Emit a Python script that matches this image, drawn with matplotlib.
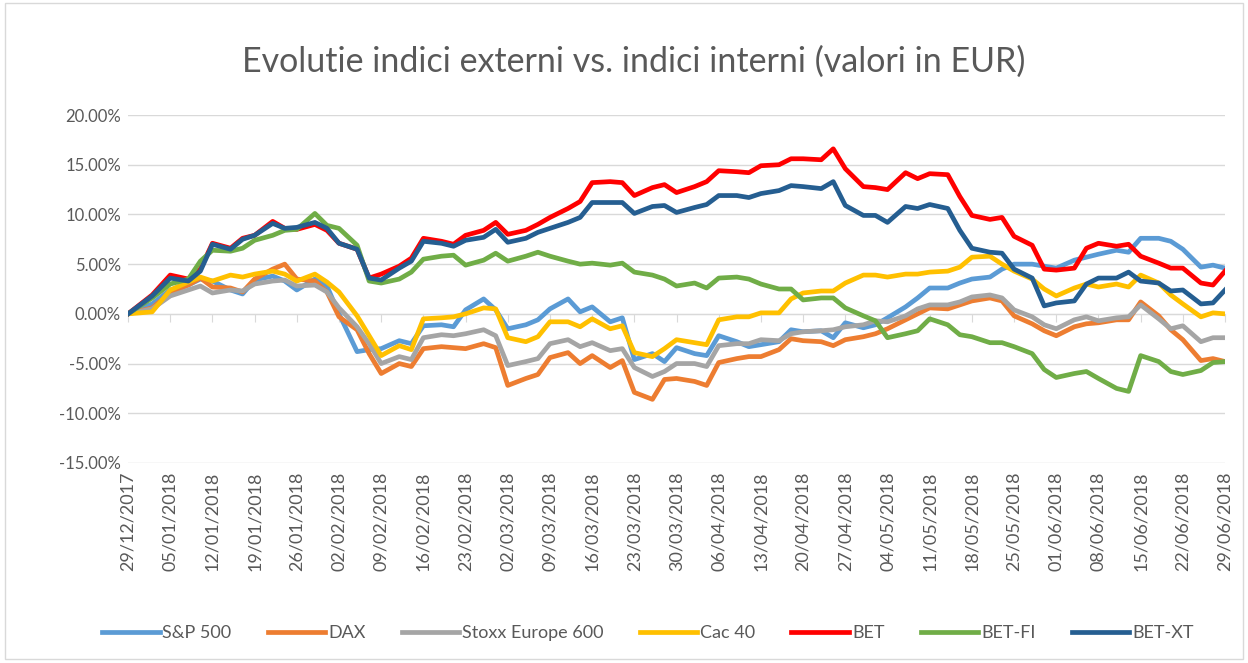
import numpy as np
import pandas as pd
import matplotlib
matplotlib.use('Agg')
import matplotlib.pyplot as plt
from matplotlib.lines import Line2D
from matplotlib.patches import Rectangle
from matplotlib.ticker import FuncFormatter

plt.rcParams['font.family'] = ['Lato', 'DejaVu Sans']

# days since 29/12/2017
days = [0, 4, 7, 10, 12, 14, 17, 19, 21, 24, 26, 28, 31, 33, 35, 38, 40, 42, 45, 47, 49,
        52, 54, 56, 59, 61, 63, 66, 68, 70, 73, 75, 77, 80, 82, 84, 87, 89, 91, 94, 96, 98,
        101, 103, 105, 108, 110, 112, 115, 117, 119, 122, 124, 126, 129, 131, 133, 136, 138,
        140, 143, 145, 147, 150, 152, 154, 157, 159, 161, 164, 166, 168, 171, 173, 175, 178,
        180, 182]

sp500 = [0, 1.0, 2.4, 2.9, 3.5, 3.3, 2.4, 2.0, 3.4, 3.8, 3.3, 2.4, 3.5, 2.8, 0.0, -3.8, -3.6,
         -3.5, -2.7, -3.0, -1.2, -1.1, -1.3, 0.4, 1.5, 0.4, -1.5, -1.1, -0.6, 0.5, 1.5, 0.2,
         0.7, -0.8, -0.4, -4.6, -4.0, -4.8, -3.4, -4.0, -4.2, -2.2, -2.8, -3.3, -3.1, -2.8,
         -1.6, -1.8, -1.7, -2.4, -0.9, -1.4, -1.1, -0.4, 0.7, 1.6, 2.6, 2.6, 3.1, 3.5, 3.7,
         4.5, 5.0, 5.0, 4.8, 4.6, 5.4, 5.7, 6.0, 6.4, 6.2, 7.6, 7.6, 7.3, 6.5, 4.7, 4.9, 4.6]
dax = [0, 0.6, 2.1, 2.9, 3.6, 2.7, 2.6, 2.2, 3.5, 4.5, 5.0, 3.5, 3.3, 2.2, -0.3, -1.6, -4.0,
       -6.0, -5.0, -5.3, -3.5, -3.3, -3.4, -3.5, -3.0, -3.4, -7.2, -6.5, -6.1, -4.4, -3.9,
       -5.0, -4.2, -5.4, -4.7, -7.9, -8.6, -6.6, -6.5, -6.8, -7.2, -4.9, -4.5, -4.3, -4.3,
       -3.6, -2.5, -2.7, -2.8, -3.2, -2.6, -2.3, -2.0, -1.5, -0.6, 0.0, 0.6, 0.5, 0.9, 1.3,
       1.6, 1.3, -0.2, -1.0, -1.7, -2.2, -1.3, -1.0, -0.9, -0.6, -0.6, 1.2, -0.2, -1.6, -2.6,
       -4.7, -4.5, -4.8]
stoxx600 = [0, 0.5, 1.8, 2.4, 2.8, 2.1, 2.4, 2.3, 3.0, 3.3, 3.4, 2.8, 2.9, 2.2, 0.6, -1.3,
            -3.0, -5.0, -4.3, -4.6, -2.4, -2.1, -2.2, -2.0, -1.6, -2.2, -5.2, -4.8, -4.5,
            -3.0, -2.6, -3.3, -2.9, -3.7, -3.5, -5.4, -6.3, -5.8, -5.0, -5.0, -5.3, -3.2,
            -3.0, -3.0, -2.6, -2.7, -2.0, -1.8, -1.7, -1.6, -1.3, -1.1, -0.7, -0.8, -0.2,
            0.5, 0.9, 0.9, 1.2, 1.7, 1.9, 1.6, 0.4, -0.3, -1.1, -1.5, -0.6, -0.3, -0.7, -0.4,
            -0.3, 0.9, -0.5, -1.5, -1.2, -2.8, -2.4, -2.4]
cac40 = [0, 0.2, 2.4, 3.2, 3.7, 3.3, 3.9, 3.7, 4.0, 4.3, 4.0, 3.3, 4.0, 3.2, 2.2, -0.2, -2.2,
         -4.2, -3.2, -3.6, -0.5, -0.4, -0.3, 0.0, 0.6, 0.5, -2.4, -2.8, -2.3, -0.8, -0.8,
         -1.3, -0.5, -1.5, -1.2, -3.9, -4.3, -3.5, -2.6, -2.9, -3.1, -0.6, -0.3, -0.3, 0.1,
         0.1, 1.5, 2.1, 2.3, 2.3, 3.1, 3.9, 3.9, 3.7, 4.0, 4.0, 4.2, 4.3, 4.7, 5.7, 5.8, 5.0,
         4.3, 3.5, 2.5, 1.8, 2.6, 3.0, 2.7, 3.0, 2.7, 3.9, 3.1, 1.9, 1.0, -0.3, 0.1, 0.0]
bet = [0, 1.9, 3.9, 3.5, 4.5, 7.1, 6.6, 7.6, 7.9, 9.3, 8.6, 8.5, 9.0, 8.4, 7.1, 6.5, 3.6, 4.0,
       4.8, 5.6, 7.6, 7.3, 7.0, 7.9, 8.4, 9.2, 8.0, 8.4, 9.0, 9.7, 10.6, 11.3, 13.2, 13.3,
       13.2, 11.9, 12.7, 13.0, 12.2, 12.8, 13.3, 14.4, 14.3, 14.2, 14.9, 15.0, 15.6, 15.6,
       15.5, 16.6, 14.6, 12.8, 12.7, 12.5, 14.2, 13.6, 14.1, 14.0, 11.8, 9.9, 9.5, 9.7, 7.8,
       6.9, 4.5, 4.4, 4.6, 6.6, 7.1, 6.8, 7.0, 5.8, 5.1, 4.6, 4.6, 3.1, 2.9, 4.3]
bet_fi = [0, 1.6, 3.0, 3.5, 5.3, 6.4, 6.3, 6.6, 7.4, 7.9, 8.4, 8.5, 10.1, 8.9, 8.6, 6.9, 3.3,
          3.1, 3.5, 4.2, 5.5, 5.8, 5.9, 4.9, 5.4, 6.1, 5.3, 5.8, 6.2, 5.8, 5.3, 5.0, 5.1,
          4.9, 5.1, 4.2, 3.9, 3.5, 2.8, 3.1, 2.6, 3.6, 3.7, 3.5, 3.0, 2.5, 2.5, 1.4, 1.6, 1.6,
          0.6, -0.2, -0.7, -2.4, -2.0, -1.7, -0.5, -1.1, -2.1, -2.3, -2.9, -2.9, -3.3, -4.0,
          -5.6, -6.4, -6.0, -5.8, -6.5, -7.5, -7.8, -4.2, -4.8, -5.8, -6.1, -5.7, -4.9, -4.8]
bet_xt = [0, 1.8, 3.6, 3.3, 4.3, 7.0, 6.5, 7.5, 7.9, 9.1, 8.6, 8.7, 9.2, 8.6, 7.1, 6.5, 3.6,
          3.4, 4.6, 5.3, 7.3, 7.1, 6.8, 7.4, 7.7, 8.5, 7.2, 7.6, 8.2, 8.6, 9.2, 9.7, 11.2,
          11.2, 11.2, 10.1, 10.8, 10.9, 10.2, 10.7, 11.0, 11.9, 11.9, 11.7, 12.1, 12.4, 12.9,
          12.8, 12.6, 13.3, 10.9, 9.9, 9.9, 9.2, 10.8, 10.6, 11.0, 10.6, 8.4, 6.6, 6.2, 6.1,
          4.5, 3.6, 0.8, 1.1, 1.3, 3.0, 3.6, 3.6, 4.2, 3.3, 3.1, 2.3, 2.4, 1.0, 1.1, 2.4]

series_names = ['S&P 500', 'DAX', 'Stoxx Europe 600', 'Cac 40', 'BET', 'BET-FI', 'BET-XT']
series_values = [sp500, dax, stoxx600, cac40, bet, bet_fi, bet_xt]
colors = ['#5B9BD5', '#ED7D31', '#A5A5A5', '#FFC000', '#FF0000', '#70AD47', '#255E91']

tick_days = list(range(0, 183, 7))
tick_labels = list(pd.date_range('2017-12-29', periods=len(tick_days), freq='7D').strftime('%d/%m/%Y'))

fig = plt.figure(figsize=(12.48, 6.63), dpi=100)
fig.patches.append(Rectangle((0.004, 0.006), 0.992, 0.99, transform=fig.transFigure,
                             fill=False, edgecolor='#D9D9D9', lw=1))
ax = fig.add_axes([0.1026, 0.3017, 0.8790, 0.5248])

for name, vals, c in zip(series_names, series_values, colors):
    ax.plot(days, vals, color=c, lw=3.4, label=name, solid_joinstyle='round')

ax.set_xlim(0, 182)
ax.set_ylim(-15, 20)
ax.set_yticks(np.arange(-15, 21, 5))
ax.yaxis.set_major_formatter(FuncFormatter(lambda v, p: f'{v:.2f}%'))
ax.yaxis.grid(True, color='#D9D9D9', lw=1)
ax.set_axisbelow(True)
for s in ['top', 'right', 'left']:
    ax.spines[s].set_visible(False)
# horizontal axis line sits at 0%, labels stay at the bottom
ax.spines['bottom'].set_position(('data', 0))
ax.spines['bottom'].set_color('#D9D9D9')
ax.spines['bottom'].set_zorder(0.5)
ax.set_xticks(tick_days)
ax.tick_params(axis='x', length=6, color='#D9D9D9', labelbottom=False)
ax.tick_params(axis='y', length=0, pad=5, labelsize=12, labelcolor='#595959')

secax = ax.secondary_xaxis('bottom')
secax.set_xticks(tick_days, tick_labels)
secax.tick_params(length=0, pad=6, labelsize=13, labelcolor='#595959', labelrotation=90)
secax.spines['bottom'].set_visible(False)

fig.text(0.508, 0.907, 'Evolutie indici externi vs. indici interni (valori in EUR)',
         ha='center', va='center', fontsize=24.5, color='#595959')

handles = [Line2D([], [], color=c, lw=3.4) for c in colors]
fig.legend(handles, series_names, loc='center', bbox_to_anchor=(0.519, 0.045), ncol=7,
           frameon=False, fontsize=13, handlelength=3.2, handletextpad=0.15,
           columnspacing=2.0, labelcolor='#595959')

fig.savefig('out.png', dpi=100)
